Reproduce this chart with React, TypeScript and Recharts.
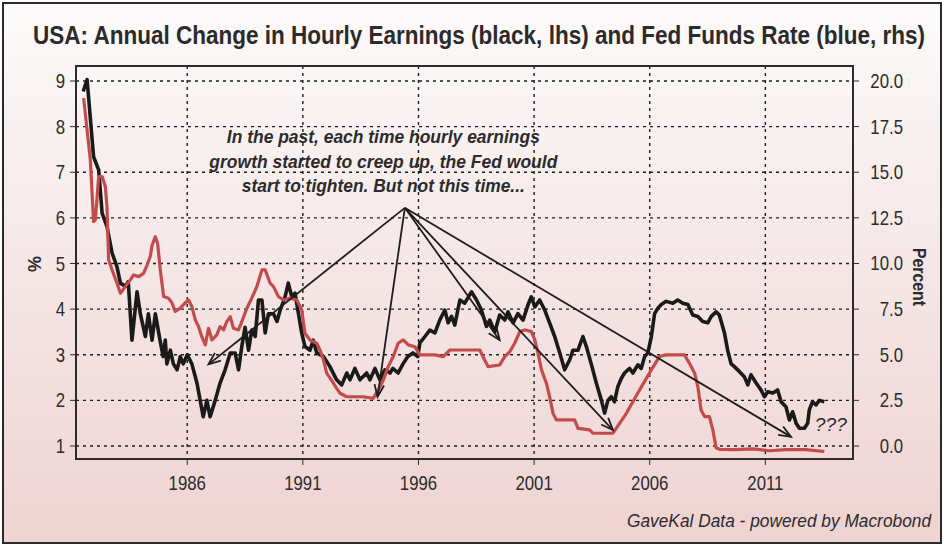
import {
  LineChart,
  Line,
  XAxis,
  YAxis,
  CartesianGrid,
  ReferenceLine,
  ReferenceDot,
  ReferenceArea,
} from "recharts";

// [year, % change y/y]
const earnings: [number, number][] = [
  [1981.5, 8.77], [1981.67, 9.03], [1981.95, 7.34], [1982.17, 7.05], [1982.32, 6.1],
  [1982.53, 5.81], [1982.75, 5.23], [1982.96, 4.93], [1983.11, 4.57], [1983.32, 4.5],
  [1983.45, 4.6], [1983.61, 3.32], [1983.83, 4.38], [1983.97, 3.9], [1984.19, 3.4],
  [1984.32, 3.9], [1984.48, 3.32], [1984.62, 3.9], [1984.83, 3.3], [1984.96, 2.96],
  [1985.05, 3.32], [1985.12, 2.8], [1985.27, 3.1], [1985.4, 2.8], [1985.56, 2.67],
  [1985.7, 2.96], [1985.83, 2.8], [1986.0, 3.0], [1986.2, 2.8], [1986.42, 2.38],
  [1986.56, 2.0], [1986.69, 1.64], [1986.85, 2.0], [1986.99, 1.64], [1987.21, 2.0],
  [1987.42, 2.38], [1987.64, 2.67], [1987.86, 3.04], [1988.07, 3.04], [1988.22, 2.67],
  [1988.36, 3.18], [1988.5, 3.6], [1988.65, 3.1], [1988.79, 3.54], [1988.94, 3.4],
  [1989.08, 4.2], [1989.23, 4.2], [1989.37, 3.48], [1989.51, 3.9], [1989.73, 3.9],
  [1989.88, 3.73], [1990.02, 3.98], [1990.23, 4.27], [1990.37, 4.57], [1990.52, 4.27],
  [1990.66, 4.35], [1990.81, 3.9], [1990.95, 3.48], [1991.09, 3.18], [1991.31, 3.1],
  [1991.45, 3.32], [1991.6, 3.04], [1991.89, 2.96], [1992.17, 2.74], [1992.46, 2.45],
  [1992.68, 2.34], [1992.9, 2.6], [1993.04, 2.45], [1993.25, 2.7], [1993.47, 2.45],
  [1993.76, 2.6], [1993.9, 2.45], [1994.12, 2.7], [1994.33, 2.45], [1994.55, 2.67],
  [1994.77, 2.6], [1994.89, 2.7], [1995.12, 2.6], [1995.33, 2.8], [1995.54, 2.96],
  [1995.76, 3.04], [1995.97, 2.96], [1996.06, 3.26], [1996.28, 3.4], [1996.49, 3.54],
  [1996.71, 3.48], [1996.92, 3.76], [1997.14, 3.98], [1997.28, 3.7], [1997.43, 3.84],
  [1997.57, 3.65], [1997.79, 4.2], [1998.0, 4.13], [1998.29, 4.38], [1998.51, 4.2],
  [1998.72, 3.98], [1998.94, 3.62], [1999.08, 3.76], [1999.3, 3.5], [1999.51, 3.87],
  [1999.73, 3.76], [1999.87, 3.94], [2000.09, 3.7], [2000.3, 3.9], [2000.52, 3.76],
  [2000.74, 4.1], [2000.88, 4.27], [2001.03, 4.05], [2001.24, 4.2], [2001.46, 3.98],
  [2001.67, 3.7], [2001.89, 3.4], [2002.11, 3.04], [2002.32, 2.67], [2002.54, 2.89],
  [2002.68, 3.1], [2002.9, 3.1], [2003.11, 3.4], [2003.26, 3.18], [2003.47, 2.8],
  [2003.69, 2.38], [2003.91, 2.0], [2004.05, 1.72], [2004.19, 2.0], [2004.34, 2.08],
  [2004.48, 1.97], [2004.62, 2.3], [2004.77, 2.48], [2004.91, 2.6], [2005.13, 2.7],
  [2005.27, 2.6], [2005.49, 2.78], [2005.63, 2.7], [2005.78, 2.96], [2005.92, 3.04],
  [2006.07, 3.4], [2006.21, 3.9], [2006.35, 4.02], [2006.5, 4.1], [2006.71, 4.17],
  [2007.0, 4.13], [2007.21, 4.2], [2007.43, 4.13], [2007.65, 4.1], [2007.86, 3.87],
  [2008.08, 3.84], [2008.29, 3.73], [2008.51, 3.7], [2008.66, 3.84], [2008.87, 3.94],
  [2009.01, 3.87], [2009.23, 3.48], [2009.37, 3.1], [2009.52, 2.8], [2009.66, 2.74],
  [2009.88, 2.63], [2010.09, 2.52], [2010.24, 2.34], [2010.38, 2.56], [2010.6, 2.38],
  [2010.81, 2.23], [2010.96, 2.08], [2011.1, 2.19], [2011.32, 2.16], [2011.53, 2.23],
  [2011.68, 1.97], [2011.89, 1.86], [2012.04, 1.57], [2012.18, 1.75], [2012.33, 1.5],
  [2012.47, 1.39], [2012.69, 1.39], [2012.83, 1.5], [2012.9, 1.79], [2013.04, 1.97],
  [2013.19, 1.9], [2013.33, 2.0], [2013.55, 1.97],
];

// [year, fed funds %] (rhs)
const fedFunds: [number, number][] = [
  [1981.52, 19.06], [1981.81, 15.68], [1981.95, 12.3], [1982.03, 12.4], [1982.17, 14.76],
  [1982.32, 14.76], [1982.46, 14.2], [1982.53, 13.1], [1982.6, 10.2], [1982.75, 9.65],
  [1982.96, 8.93], [1983.11, 8.37], [1983.32, 8.73], [1983.54, 9.1], [1983.68, 9.37],
  [1983.9, 9.28], [1984.11, 9.46], [1984.26, 9.9], [1984.4, 10.38], [1984.48, 11.0],
  [1984.62, 11.47], [1984.72, 11.1], [1984.83, 9.7], [1984.98, 8.19], [1985.19, 8.1],
  [1985.34, 7.84], [1985.48, 7.37], [1985.7, 7.55], [1985.91, 7.84], [1986.06, 8.0],
  [1986.2, 7.64], [1986.35, 6.9], [1986.49, 6.54], [1986.63, 5.99], [1986.78, 5.54],
  [1986.92, 6.45], [1987.07, 5.81], [1987.28, 6.09], [1987.42, 6.54], [1987.57, 6.36],
  [1987.71, 6.81], [1987.86, 7.09], [1988.0, 6.45], [1988.22, 6.36], [1988.36, 6.81],
  [1988.58, 7.55], [1988.79, 8.1], [1989.01, 8.73], [1989.23, 9.65], [1989.37, 9.65],
  [1989.58, 8.93], [1989.73, 8.73], [1989.94, 8.19], [1990.16, 8.0], [1990.45, 8.1],
  [1990.74, 8.0], [1990.95, 7.46], [1991.09, 6.18], [1991.31, 5.81], [1991.6, 5.63],
  [1991.74, 5.26], [1991.89, 4.71], [1992.03, 3.99], [1992.25, 3.58], [1992.46, 3.16],
  [1992.61, 2.89], [1992.9, 2.7], [1993.61, 2.7], [1994.04, 2.61], [1994.26, 3.07],
  [1994.48, 3.62], [1994.69, 4.35], [1994.91, 4.9], [1995.12, 5.63], [1995.34, 5.81],
  [1995.56, 5.54], [1995.84, 5.44], [1996.06, 4.99], [1996.35, 4.99], [1996.71, 4.99],
  [1997.07, 4.9], [1997.36, 5.26], [1998.29, 5.26], [1998.65, 5.26], [1998.86, 4.71],
  [1999.01, 4.35], [1999.51, 4.44], [1999.73, 4.9], [1999.95, 5.17], [2000.16, 5.63],
  [2000.38, 6.27], [2000.59, 6.36], [2000.88, 6.27], [2001.03, 5.81], [2001.17, 5.08],
  [2001.32, 4.17], [2001.53, 3.44], [2001.67, 2.7], [2001.82, 1.79], [2001.96, 1.43],
  [2002.75, 1.43], [2002.9, 0.97], [2003.4, 0.88], [2003.54, 0.7], [2004.41, 0.7],
  [2004.99, 1.79], [2005.56, 3.07], [2006.07, 4.17], [2006.42, 4.9], [2006.71, 4.99],
  [2007.5, 4.99], [2007.72, 4.53], [2007.94, 3.99], [2008.08, 3.25], [2008.22, 1.97],
  [2008.37, 1.61], [2008.58, 1.61], [2008.73, 0.88], [2008.87, -0.1], [2009.01, -0.18],
  [2009.73, -0.2], [2010.45, -0.16], [2011.17, -0.26], [2011.89, -0.2], [2012.75, -0.2],
  [2013.55, -0.3],
];

const yearTicks = [1986, 1991, 1996, 2001, 2006, 2011];
const lhsTicks = [1, 2, 3, 4, 5, 6, 7, 8, 9];
const rhsTicks = [0, 2.5, 5, 7.5, 10, 12.5, 15, 17.5, 20];

// arrows: common origin -> each past turning point (year, lhs value)
const arrowOrigin = { x: 1995.41, y: 6.22 };
const arrowTargets = [
  { x: 1986.92, y: 2.79 },
  { x: 1994.23, y: 2.08 },
  { x: 1999.51, y: 3.32 },
  { x: 2004.41, y: 1.35 },
  { x: 2012.11, y: 1.2 },
];

const noteLines = [
  "In the past, each time hourly earnings",
  "growth started to creep up, the Fed would",
  "start to tighten. But not this time...",
];
const noteWidths = [313, 348, 283];

const earningsData = earnings.map(([year, v]) => ({ year, v }));
const fedData = fedFunds.map(([year, v]) => ({ year, v }));

const FONT = '"Liberation Sans", Arial, sans-serif';
const INK = "#2b2b2b";
const SQUEEZE = 0.84;

const Arrow = (props: any) => {
  const { x1, y1, x2, y2 } = props;
  const a = Math.atan2(y2 - y1, x2 - x1);
  const len = 13;
  const spread = 0.38;
  const hx1 = x2 - len * Math.cos(a - spread);
  const hy1 = y2 - len * Math.sin(a - spread);
  const hx2 = x2 - len * Math.cos(a + spread);
  const hy2 = y2 - len * Math.sin(a + spread);
  return (
    <g stroke="#1e1e1e" strokeWidth={1.8} fill="none">
      <line x1={x1} y1={y1} x2={x2} y2={y2} />
      <polyline points={`${hx1},${hy1} ${x2},${y2} ${hx2},${hy2}`} />
    </g>
  );
};

// narrow text: squeezed horizontally, width pinned to what the reference shows
const Squeezed = ({ x, y, anchor, width, size, weight, italic, children }: any) => (
  <g transform={`translate(${x},${y}) scale(${SQUEEZE},1)`}>
    <text
      textAnchor={anchor}
      fontFamily={FONT}
      fontSize={size}
      fontWeight={weight}
      fontStyle={italic ? "italic" : "normal"}
      fill={INK}
      textLength={width ? width / SQUEEZE : undefined}
      lengthAdjust={width ? "spacingAndGlyphs" : undefined}
    >
      {children}
    </text>
  </g>
);

const XTick = (props: any) => (
  <Squeezed x={props.x} y={props.y + 23} anchor="middle" size={20}>
    {props.payload.value}
  </Squeezed>
);

const LeftTick = (props: any) => (
  <Squeezed x={props.x} y={props.y + 7} anchor="end" size={20}>
    {props.payload.value}
  </Squeezed>
);

const RightTick = (props: any) => (
  <Squeezed x={props.x + 42} y={props.y + 7} anchor="end" size={20}>
    {props.payload.value.toFixed(1)}
  </Squeezed>
);

export default function App() {
  return (
    <div
      style={{
        position: "absolute",
        left: 0,
        top: 0,
        width: 944,
        height: 546,
        background: "#ffffff",
      }}
    >
      <div
        style={{
          position: "absolute",
          left: 2,
          top: 2,
          width: 940,
          height: 542,
          boxSizing: "border-box",
          border: "2px solid #2a2a2a",
          background:
            "linear-gradient(to bottom, #fcfafa 0%, #f6e8e8 45%, #efd2d2 100%)",
        }}
      />
      <svg
        width={944}
        height={546}
        style={{ position: "absolute", left: 0, top: 0 }}
      >
        <Squeezed x={479} y={44} anchor="middle" size={25} weight="bold" width={892}>
          USA: Annual Change in Hourly Earnings (black, lhs) and Fed Funds Rate (blue, rhs)
        </Squeezed>
        <text
          transform="translate(41,264) rotate(-90)"
          textAnchor="middle"
          fontFamily={FONT}
          fontWeight="bold"
          fontSize={18}
          fill={INK}
        >
          %
        </text>
        <g transform="translate(913,277) rotate(90)">
          <Squeezed x={0} y={0} anchor="middle" size={18} weight="bold" width={58}>
            Percent
          </Squeezed>
        </g>
        <Squeezed x={931} y={527} anchor="end" size={19} italic width={304}>
          GaveKal Data - powered by Macrobond
        </Squeezed>
      </svg>
      <div style={{ position: "absolute", left: 0, top: 0 }}>
        <LineChart
          width={944}
          height={546}
          margin={{ top: 66, right: 31, left: 36, bottom: 47 }}
        >
          <CartesianGrid
            yAxisId="left"
            stroke="#1e1e1e"
            strokeWidth={1.4}
            strokeDasharray="3 4"
            horizontalValues={lhsTicks}
            verticalValues={yearTicks}
          />
          <XAxis
            dataKey="year"
            type="number"
            domain={[1981.19, 2014.79]}
            ticks={yearTicks}
            allowDataOverflow
            tickSize={6}
            tickMargin={2}
            stroke="#2b2b2b"
            axisLine={false}
            tick={<XTick />}
            height={40}
          />
          <YAxis
            yAxisId="left"
            orientation="left"
            domain={[0.715, 9.329]}
            ticks={lhsTicks}
            allowDataOverflow
            tickSize={6}
            tickMargin={5}
            width={40}
            stroke="#2b2b2b"
            axisLine={false}
            tick={<LeftTick />}
          />
          <YAxis
            yAxisId="right"
            orientation="right"
            domain={[-0.712, 20.82]}
            ticks={rhsTicks}
            allowDataOverflow
            tickSize={6}
            tickMargin={2}
            width={60}
            stroke="#2b2b2b"
            axisLine={false}
            tick={<RightTick />}
          />
          <ReferenceArea
            yAxisId="left"
            x1={1981.19}
            x2={2014.79}
            y1={0.715}
            y2={9.329}
            fill="none"
            stroke="#2b2b2b"
            strokeWidth={2}
            ifOverflow="visible"
          />
          <Line
            data={earningsData}
            dataKey="v"
            yAxisId="left"
            type="linear"
            stroke="#1a1a1a"
            strokeWidth={3.6}
            strokeLinejoin="round"
            dot={false}
            isAnimationActive={false}
          />
          <Line
            data={fedData}
            dataKey="v"
            yAxisId="right"
            type="linear"
            stroke="#c24c4c"
            strokeWidth={3.2}
            strokeLinejoin="round"
            dot={false}
            isAnimationActive={false}
          />
          {arrowTargets.map((t, i) => (
            <ReferenceLine
              key={i}
              yAxisId="left"
              segment={[arrowOrigin, t]}
              ifOverflow="visible"
              shape={Arrow}
            />
          ))}
          <ReferenceDot
            yAxisId="left"
            x={1994.48}
            y={7.78}
            r={0}
            ifOverflow="visible"
            shape={(p: any) => (
              <g>
                {noteLines.map((s, i) => (
                  <Squeezed
                    key={i}
                    x={p.cx}
                    y={p.cy + 6.5 + i * 24.5}
                    anchor="middle"
                    size={18}
                    weight="bold"
                    italic
                    width={noteWidths[i]}
                  >
                    {s}
                  </Squeezed>
                ))}
              </g>
            )}
          />
          <ReferenceDot
            yAxisId="left"
            x={2013.83}
            y={1.49}
            r={0}
            ifOverflow="visible"
            shape={(p: any) => (
              <Squeezed x={p.cx} y={p.cy + 7} anchor="middle" size={19} italic width={32}>
                ???
              </Squeezed>
            )}
          />
        </LineChart>
      </div>
    </div>
  );
}
